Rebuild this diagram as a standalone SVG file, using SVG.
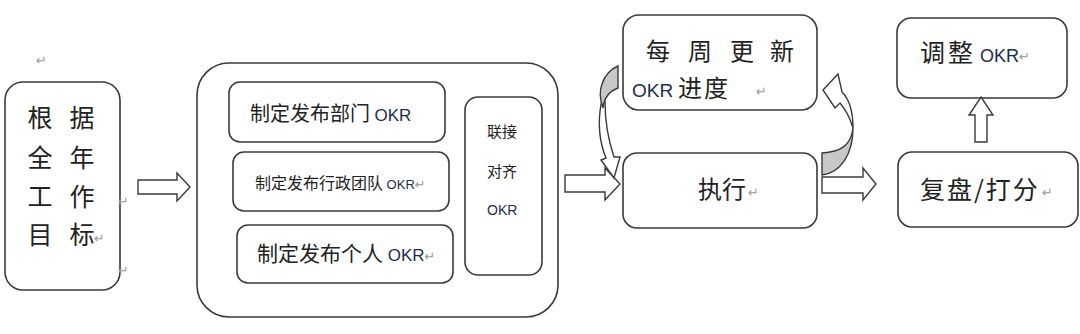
<svg xmlns="http://www.w3.org/2000/svg" width="1080" height="334" viewBox="0 0 1080 334">
<style>
.box{fill:#fff;stroke:#3a3a3a;stroke-width:1.6}
.arr{fill:#fff;stroke:#3a3a3a;stroke-width:1.4;stroke-linejoin:miter}
.shade{fill:#c8c8c8;stroke:#3a3a3a;stroke-width:1.4}
.t{font-family:"Noto Sans CJK SC","Noto Sans",sans-serif;fill:#222}
.o{font-family:"Liberation Sans","Noto Sans",sans-serif;fill:#1f2d4a}
.m{font-family:"DejaVu Sans",sans-serif;fill:#9a9a9a;font-size:13px}
</style>
<rect width="1080" height="334" fill="#fff"/>
<text class="m" x="36" y="65">↵</text>

<g id="goal">
<rect class="box" x="5" y="82" width="115" height="208" rx="18"/>
<g class="t" font-size="25" text-anchor="middle">
<text x="40" y="127">根</text><text x="82" y="127">据</text>
<text x="40" y="167">全</text><text x="82" y="167">年</text>
<text x="40" y="206">工</text><text x="82" y="206">作</text>
<text x="40" y="244">目</text><text x="82" y="244">标</text>
</g>
<text class="m" x="94" y="243">↵</text>
<text class="m" x="118" y="206">↵</text>
<text class="m" x="118" y="275">↵</text>
</g>

<g id="define">
<rect class="box" x="197" y="63" width="361" height="254" rx="32"/>
<g id="dept">
<rect class="box" x="229" y="82" width="216" height="60" rx="11"/>
<text class="t" x="250" y="121" font-size="20">制定发布部门 <tspan class="o" font-size="17">OKR</tspan></text>
</g>
<g id="team">
<rect class="box" x="233" y="152" width="216" height="59" rx="11"/>
<text class="t" x="255" y="189" font-size="16">制定发布行政团队 <tspan class="o" font-size="13">OKR</tspan><tspan class="m" font-size="12">↵</tspan></text>
</g>
<g id="person">
<rect class="box" x="237" y="225" width="216" height="58" rx="11"/>
<text class="t" x="257" y="261" font-size="21">制定发布个人 <tspan class="o" font-size="17">OKR</tspan><tspan class="m" font-size="13">↵</tspan></text>
</g>
<g id="align">
<rect class="box" x="465" y="97" width="77" height="178" rx="13"/>
<text class="t" x="487" y="137" font-size="15">联接</text>
<text class="t" x="487" y="177" font-size="15">对齐</text>
<text class="o" x="487" y="215" font-size="14">OKR</text>
</g>
</g>

<g id="update">
<rect class="box" x="623" y="15" width="194" height="95" rx="16"/>
<g class="t" font-size="24" text-anchor="middle">
<text x="658" y="60">每</text><text x="700" y="60">周</text><text x="742" y="60">更</text><text x="782" y="60">新</text>
</g>
<text class="o" x="632" y="97" font-size="19">OKR</text>
<text class="t" x="678" y="97" font-size="24" letter-spacing="2">进度</text>
<text class="m" x="756" y="96">↵</text>
</g>

<g id="execute">
<rect class="box" x="623" y="153" width="194" height="75" rx="14"/>
<text class="t" x="698" y="198" font-size="24">执行</text>
<text class="m" x="748" y="197">↵</text>
</g>

<g id="adjust">
<rect class="box" x="897" y="18" width="170" height="80" rx="14"/>
<text class="t" x="920" y="62" font-size="25" letter-spacing="3">调整</text>
<text class="o" x="980" y="62" font-size="18">OKR</text>
<text class="m" x="1019" y="61">↵</text>
</g>

<g id="review">
<rect class="box" x="898" y="152" width="180" height="75" rx="14"/>
<text class="t" x="920" y="199" font-size="25" letter-spacing="2">复盘/打分</text>
<text class="m" x="1042" y="197">↵</text>
</g>

<g id="connectors">
<path class="arr" d="M138,180 L177,180 L177,173 L190,187 L177,201 L177,194 L138,194 Z"/>
<path class="arr" d="M565,175 L605,175 L605,168 L620,184 L605,200 L605,192 L565,192 Z"/>
<path class="arr" d="M822,177 L863,177 L863,168 L876,184 L863,200 L863,193 L822,193 Z"/>
<path class="arr" d="M975,142 L975,115 L969,115 L981,97 L993,115 L987,115 L987,142 Z"/>
<path class="arr" d="M601,104 C597,128 601,146 606,158 L601,160 L614,178 L620,157 L614,157 C609,142 605,124 605,102 Z"/>
<path class="shade" d="M618,66 L618,88 C610,91 604,98 603,108 C600,100 599,92 602,84 C605,75 611,69 618,66 Z"/>
<path class="shade" d="M822,153 L822,175 C840,173 853,155 853,128 C851,146 840,152 822,153 Z"/>
<path class="arr" d="M853,128 C853,110 849,99 842,92 L838,74 L823,90 L835,108 L840,103 C846,110 850,118 853,128 Z"/>
</g>
</svg>
